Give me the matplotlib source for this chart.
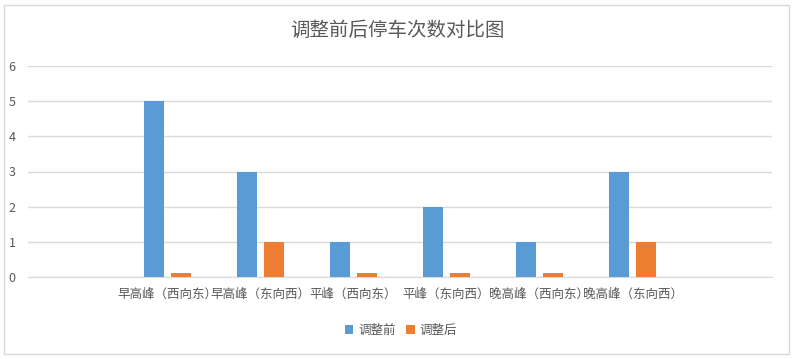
import matplotlib.pyplot as plt
import numpy as np
from matplotlib.patches import Rectangle

plt.rcParams['font.family'] = ['Noto Sans CJK SC', 'DejaVu Sans']

categories = ['早高峰（西向东）', '早高峰（东向西）', '平峰（西向东）',
              '平峰（东向西）', '晚高峰（西向东）', '晚高峰（东向西）']
before = [5, 3, 1, 2, 1, 3]
after = [0.1, 1, 0.1, 0.1, 0.1, 1]

blue = '#5b9bd5'
orange = '#ed7d31'
grey = '#595959'

fig = plt.figure(figsize=(7.94, 3.59), dpi=100)
ax = fig.add_axes([28/794, 82/359, 744/794, 211/359])

x = np.arange(len(categories))
w = 0.225
off = 0.145
ax.bar(x - off, before, w, color=blue, label='调整前', zorder=3)
ax.bar(x + off, after, w, color=orange, label='调整后', zorder=3)

ax.set_xlim(-1.5, len(categories) + 0.5)
ax.set_ylim(0, 6)
ax.set_yticks(range(0, 7))
ax.yaxis.grid(True, color='#d9d9d9', linewidth=1, zorder=0)
ax.set_xticks(x)
ax.set_xticklabels(categories, fontsize=9, color=grey)
ax.tick_params(axis='both', length=0, labelsize=9, labelcolor=grey)
ax.tick_params(axis='x', pad=8)
ax.tick_params(axis='y', pad=9)
for s in ['top', 'right', 'left']:
    ax.spines[s].set_visible(False)
ax.spines['bottom'].set_color('#d9d9d9')

fig.text(0.5, 1 - 30/359, '调整前后停车次数对比图', ha='center', va='center',
         fontsize=14, color=grey)

fig.legend(loc='center', bbox_to_anchor=(0.505, 1 - 330/359), ncol=2, frameon=False,
           fontsize=9, handlelength=0.7, handleheight=0.7, columnspacing=0.8,
           handletextpad=0.4, labelcolor=grey)

fig.patches.append(Rectangle((4/794, 5/359), 785/794, 349/359, transform=fig.transFigure,
                             fill=False, edgecolor='#d9d9d9', linewidth=1))

fig.savefig('out.png', dpi=100)
